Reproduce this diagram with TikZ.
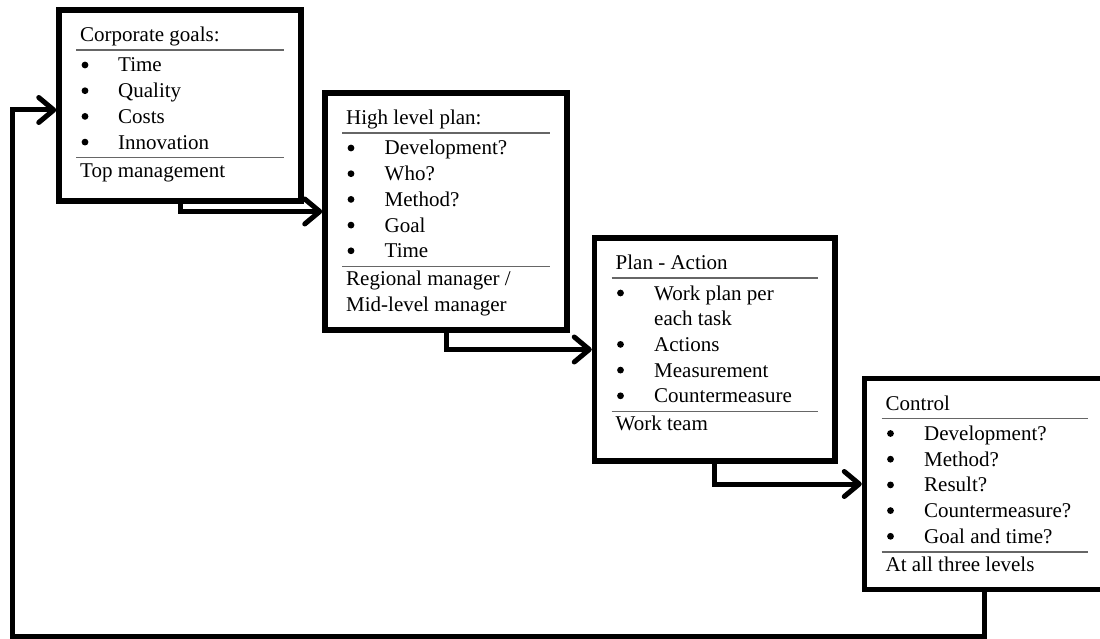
\documentclass[tikz,border=0pt]{standalone}
\usepackage{fontspec}
\setmainfont{Liberation Serif}
\usetikzlibrary{arrows.meta}
\tikzset{
  boxnode/.style={draw=black, line width=5.5pt, inner sep=0pt, fill=none},
  txt/.style={anchor=base west, inner sep=0pt, font=\fontsize{21pt}{25.7pt}\selectfont},
  bul/.style={circle, fill=black, inner sep=0pt, minimum size=6.8pt, yshift=7pt},
  sepline/.style={draw=black!60, line width=1.4pt},
  conn/.style={draw=black, line width=5pt, -{Straight Barb[length=15pt,width=25pt,round]}}
}
\begin{document}
\begin{tikzpicture}[x=1pt,y=-1pt]
\useasboundingbox (0,0) rectangle (1100,639);
% boxes
\node[boxnode, minimum width=242pt, minimum height=191pt] (b1) at (180,105.5) {};
\node[boxnode, minimum width=242pt, minimum height=237pt] (b2) at (446,211.5) {};
\node[boxnode, minimum width=240.5pt, minimum height=223pt] (b3) at (714.75,349.5) {};
\node[boxnode, minimum width=240.5pt, minimum height=211pt] (b4) at (984.75,484) {};
% box 1
\node[txt] (t1) at (80,41.5) {Corporate goals:};
\draw[sepline] (76,50) -- (284,50);
\node[bul] (b1i1) at (85,72) {};
\node[txt] (t1i1) at (118,72) {Time};
\node[bul] (b1i2) at (85,97.7) {};
\node[txt] (t1i2) at (118,97.7) {Quality};
\node[bul] (b1i3) at (85,123.4) {};
\node[txt] (t1i3) at (118,123.4) {Costs};
\node[bul] (b1i4) at (85,149.1) {};
\node[txt] (t1i4) at (118,149.1) {Innovation};
\draw[sepline] (76,157.6) -- (284,157.6);
\node[txt] (f1) at (80,177.1) {Top management};
% box 2
\node[txt] (t2) at (346,124.5) {High level plan:};
\draw[sepline] (342,133) -- (550,133);
\node[bul] (b2i1) at (351,155) {};
\node[txt] (t2i1) at (384.5,155) {Development?};
\node[bul] (b2i2) at (351,180.7) {};
\node[txt] (t2i2) at (384.5,180.7) {Who?};
\node[bul] (b2i3) at (351,206.4) {};
\node[txt] (t2i3) at (384.5,206.4) {Method?};
\node[bul] (b2i4) at (351,232.1) {};
\node[txt] (t2i4) at (384.5,232.1) {Goal};
\node[bul] (b2i5) at (351,257.8) {};
\node[txt] (t2i5) at (384.5,257.8) {Time};
\draw[sepline] (342,266.3) -- (550,266.3);
\node[txt] (f2a) at (346,285.8) {Regional manager /};
\node[txt] (f2b) at (346,311.5) {Mid-level manager};
% box 3
\node[txt] (t3) at (615.5,269.5) {Plan - Action};
\draw[sepline] (611.5,278) -- (818,278);
\node[bul] (b3i1) at (620.5,300) {};
\node[txt] (t3i1) at (654,300) {Work plan per};
\node[txt] (t3i1b) at (654,325.7) {each task};
\node[bul] (b3i2) at (620.5,351.4) {};
\node[txt] (t3i2) at (654,351.4) {Actions};
\node[bul] (b3i3) at (620.5,377.1) {};
\node[txt] (t3i3) at (654,377.1) {Measurement};
\node[bul] (b3i4) at (620.5,402.8) {};
\node[txt] (t3i4) at (654,402.8) {Countermeasure};
\draw[sepline] (611.5,411.3) -- (818,411.3);
\node[txt] (f3) at (615.5,430.8) {Work team};
% box 4
\node[txt] (t4) at (885.5,410) {Control};
\draw[sepline] (881.5,418.5) -- (1088,418.5);
\node[bul] (b4i1) at (890.5,440.5) {};
\node[txt] (t4i1) at (924,440.5) {Development?};
\node[bul] (b4i2) at (890.5,466.2) {};
\node[txt] (t4i2) at (924,466.2) {Method?};
\node[bul] (b4i3) at (890.5,491.9) {};
\node[txt] (t4i3) at (924,491.9) {Result?};
\node[bul] (b4i4) at (890.5,517.6) {};
\node[txt] (t4i4) at (924,517.6) {Countermeasure?};
\node[bul] (b4i5) at (890.5,543.3) {};
\node[txt] (t4i5) at (924,543.3) {Goal and time?};
\draw[sepline] (881.5,551.8) -- (1088,551.8);
\node[txt] (f4) at (885.5,571.3) {At all three levels};
% connectors
\coordinate (fb) at (12,636);
\draw[conn] (b1.south) |- (b2.west);
\draw[conn] (b2.south) |- (b3.west);
\draw[conn] (b3.south) |- (b4.west);
\draw[conn] (b4.south) |- (fb) |- ([yshift=-4.5pt]b1.west);
\end{tikzpicture}
\end{document}
